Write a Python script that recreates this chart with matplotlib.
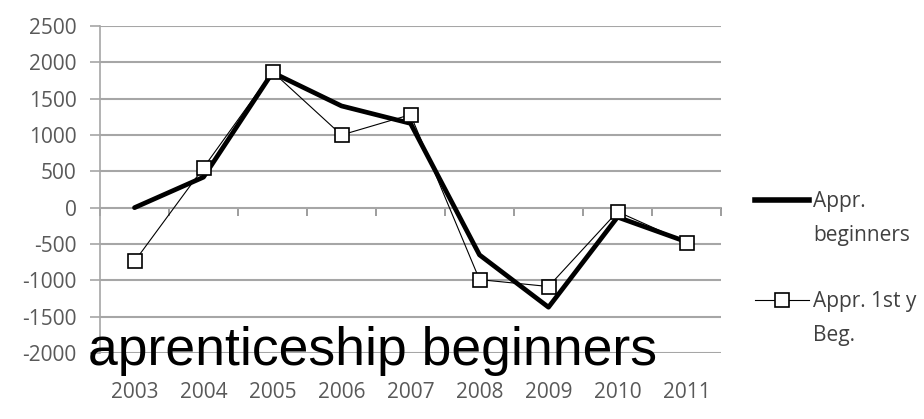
import matplotlib
matplotlib.use("Agg")
import matplotlib.pyplot as plt
from matplotlib.lines import Line2D
import numpy as np

years = ["2003", "2004", "2005", "2006", "2007", "2008", "2009", "2010", "2011"]
appr_beginners = [0, 420, 1860, 1400, 1160, -650, -1370, -130, -470]
appr_1st_year = [-740, 550, 1870, 1000, 1280, -990, -1085, -55, -480]
yticks = [-2000, -1500, -1000, -500, 0, 500, 1000, 1500, 2000, 2500]

tick_font = "Open Sans"
tick_color = "#595959"
grid_color = "#a6a6a6"

fig = plt.figure(figsize=(9.24, 4.19), dpi=100)
ax = fig.add_axes([100/924, 1-353/419, 621/924, 327/419])

x = np.arange(len(years))
l1, = ax.plot(x, appr_beginners, color="black", lw=3.4, solid_joinstyle="round",
              solid_capstyle="round", zorder=3)
l2, = ax.plot(x, appr_1st_year, color="black", lw=0.8, marker="s", markersize=10,
              markerfacecolor="white", markeredgecolor="black", markeredgewidth=1.2,
              zorder=4)

ax.set_xlim(-0.5, len(years) - 0.5)
ax.set_ylim(-2000, 2500)
ax.set_yticks(yticks)
ax.set_yticklabels([str(v) for v in yticks], fontfamily=tick_font, fontsize=15, color=tick_color)
ax.set_xticks(x)
ax.set_xticklabels(years, fontfamily=tick_font, fontsize=15, color=tick_color)
ax.tick_params(axis="x", length=0, pad=21)
ax.tick_params(axis="y", length=7, width=1.2, color=grid_color, pad=10)

ax.grid(axis="y", color=grid_color, lw=1.5)
ax.set_axisbelow(True)
for s in ["top", "right", "bottom"]:
    ax.spines[s].set_visible(False)
ax.spines["left"].set_color(grid_color)
ax.spines["left"].set_linewidth(1.2)

# zero axis with category-boundary ticks
sec = ax.secondary_xaxis(2000/4500)
sec.set_xticks(np.arange(len(years) + 1) - 0.5)
sec.set_xticklabels([])
sec.tick_params(length=6, width=1.2, color="#8c8c8c", direction="out")
sec.spines["bottom"].set_color("#8c8c8c")
sec.spines["bottom"].set_linewidth(1.2)
sec.spines["top"].set_visible(False)

blank = Line2D([], [], color="none")
h1 = Line2D([], [], color="black", lw=4.0)
h2 = Line2D([], [], color="black", lw=0.8, marker="s", markersize=10,
            markerfacecolor="white", markeredgecolor="black", markeredgewidth=1.2)
leg = fig.legend(handles=[h1, blank, blank, h2, blank],
                 labels=["Appr.", "beginners", "", "Appr. 1st y", "Beg."],
                 loc="upper left", bbox_to_anchor=(755/924, 1-191/419),
                 frameon=False, handlelength=2.6, handletextpad=0.2, labelspacing=0.6,
                 borderpad=0, borderaxespad=0,
                 prop={"family": tick_font, "size": 15})
for t in leg.get_texts():
    t.set_color("#404040")

fig.text(88/924, 1-365/419, "aprenticeship beginners", fontfamily="Liberation Sans",
         fontsize=38.5, color="black", va="baseline", ha="left")

fig.savefig("out.png", dpi=100)
